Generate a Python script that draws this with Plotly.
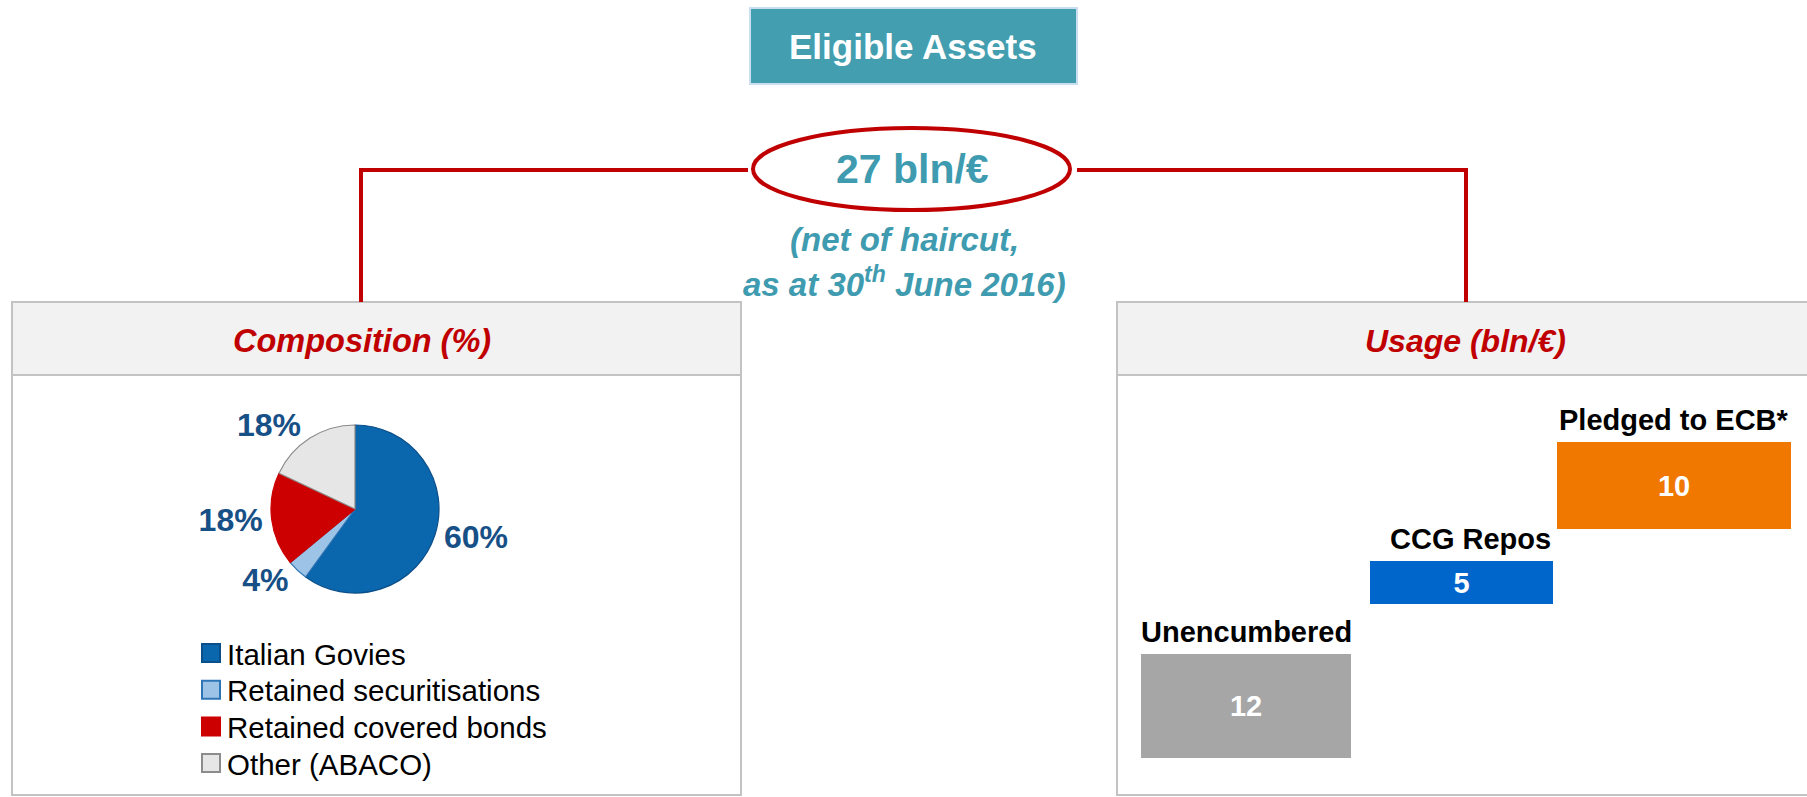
import plotly.graph_objects as go

W, H = 1807, 797
FONT = "Arial, Liberation Sans, sans-serif"

# ---------------- data ----------------
pie_labels = ["Italian Govies", "Retained securitisations", "Retained covered bonds", "Other (ABACO)"]
pie_values = [60, 4, 18, 18]

usage_categories = ["Unencumbered", "CCG Repos", "Pledged to ECB*"]
usage_values = [12, 5, 10]

main_title = "Eligible Assets"
total_text = "27 bln/€"
subtitle_1 = "(net of haircut,"
subtitle_2 = "as at 30<sup>th</sup> June 2016)"
left_title = "Composition (%)"
right_title = "Usage (bln/€)"

# ---------------- styles / positions ----------------
TEAL = "#3F9BAF"
RED = "#C00000"
PIE_TEXT = "#174F87"
pie_colors = ["#0A67AD", "#9DC3E6", "#CC0000", "#E6E6E6"]
pie_line_colors = ["#0B4F8A", "#2E75B6", "#CC0000", "#8C8C8C"]
legend_border = ["#0B4F8A", "#2E75B6", "#CC0000", "#8C8C8C"]
bar_colors = ["#A6A6A6", "#0066CC", "#F07800"]

bar_left_px = [1141, 1370, 1557]
bar_right_px = [1351, 1553, 1791]
bar_gaps = [5.7, 3.6]          # vertical spacing between steps (value units)
label_anchor = ["center", "right", "center"]
PX_PER_UNIT = 8.7
BASE_PY = 758                  # pixel row of value 0

LEG_X, LEG_Y0, LEG_DY, LEG_SQ = 202, 653, 36.7, 18


def xp(px):
    return px / W


def yp(py):
    return 1 - py / H


# bar geometry from data
bases = [0.0]
for i in range(1, len(usage_values)):
    bases.append(bases[-1] + usage_values[i - 1] + bar_gaps[i - 1])
centers = [(l + r) / 2 for l, r in zip(bar_left_px, bar_right_px)]
widths = [r - l for l, r in zip(bar_left_px, bar_right_px)]

fig = go.Figure()

fig.add_trace(go.Bar(
    x=centers, y=usage_values, base=bases, width=widths,
    marker=dict(color=bar_colors, line=dict(width=0)),
    text=[str(v) for v in usage_values], textposition="inside",
    insidetextanchor="middle", constraintext="none", textangle=0,
    textfont=dict(color="white", size=29, family=FONT, weight="bold"),
    showlegend=False, hoverinfo="skip",
))

PIE_CX, PIE_CY, PIE_R = 355, 509, 84
fig.add_trace(go.Pie(
    labels=pie_labels, values=pie_values, sort=False, direction="clockwise",
    rotation=0,
    marker=dict(colors=pie_colors, line=dict(color=pie_line_colors, width=1.2)),
    texttemplate="%{percent:.0%}", textposition="outside",
    textfont=dict(size=32, color=PIE_TEXT, family=FONT, weight="bold"),
    domain=dict(x=[xp(PIE_CX - PIE_R), xp(PIE_CX + PIE_R)],
                y=[yp(PIE_CY + PIE_R), yp(PIE_CY - PIE_R)]),
    hoverinfo="skip", showlegend=False,
))

shapes = []
# panels
PANEL_LINE = dict(color="#C3C3C3", width=2)
for (x0, x1) in [(12, 741), (1117, 1815)]:
    shapes.append(dict(type="rect", xref="paper", yref="paper", layer="below",
                       x0=xp(x0), x1=xp(x1), y0=yp(375), y1=yp(302),
                       fillcolor="#F2F2F2", line=PANEL_LINE))
    shapes.append(dict(type="rect", xref="paper", yref="paper", layer="below",
                       x0=xp(x0), x1=xp(x1), y0=yp(795), y1=yp(375),
                       fillcolor="white", line=PANEL_LINE))
# title box
shapes.append(dict(type="rect", xref="paper", yref="paper", layer="below",
                   x0=xp(750), x1=xp(1077), y0=yp(84), y1=yp(8),
                   fillcolor="#439EB0", line=dict(color="#C9DFEF", width=2)))
# connector lines
shapes.append(dict(type="path", xref="paper", yref="paper", layer="below",
                   path=f"M{xp(361)},{yp(302)} L{xp(361)},{yp(170)} L{xp(748)},{yp(170)}",
                   line=dict(color=RED, width=4)))
shapes.append(dict(type="path", xref="paper", yref="paper", layer="below",
                   path=f"M{xp(1077)},{yp(170)} L{xp(1466)},{yp(170)} L{xp(1466)},{yp(302)}",
                   line=dict(color=RED, width=4)))
# ellipse
shapes.append(dict(type="circle", xref="paper", yref="paper", layer="below",
                   x0=xp(753), x1=xp(1070), y0=yp(210), y1=yp(128),
                   fillcolor="white", line=dict(color=RED, width=4)))

ann = []


def add_text(text, px, py, size, color, bold=True, italic=False, xanchor="center"):
    t = text
    if italic:
        t = f"<i>{t}</i>"
    if bold:
        t = f"<b>{t}</b>"
    ann.append(dict(text=t, x=xp(px), y=yp(py), xref="paper", yref="paper",
                    showarrow=False, xanchor=xanchor, yanchor="middle",
                    font=dict(size=size, color=color, family=FONT)))


add_text(main_title, 913, 46, 35, "white")
add_text(total_text, 912, 169, 41, TEAL)
add_text(subtitle_1, 904, 240, 33, TEAL, italic=True)
add_text(subtitle_2, 904, 282, 33, TEAL, italic=True)
add_text(left_title, 362, 341, 32.5, RED, italic=True)
add_text(right_title, 1465, 341, 32, RED, italic=True)

# legend for the pie (keys + labels)
for i, lab in enumerate(pie_labels):
    cy = LEG_Y0 + i * LEG_DY
    shapes.append(dict(type="rect", xref="paper", yref="paper",
                       x0=xp(LEG_X), x1=xp(LEG_X + LEG_SQ),
                       y0=yp(cy + LEG_SQ / 2), y1=yp(cy - LEG_SQ / 2),
                       fillcolor=pie_colors[i], line=dict(color=legend_border[i], width=2)))
    add_text(lab, LEG_X + LEG_SQ + 5, cy + 1, 29.5, "black", bold=False, xanchor="left")

# category labels above bars
for i, cat in enumerate(usage_categories):
    top = bases[i] + usage_values[i]
    xa = label_anchor[i]
    xpos = bar_right_px[i] if xa == "right" else centers[i]
    ann.append(dict(text=f"<b>{cat}</b>", x=xpos, y=top, xref="x", yref="y",
                    xanchor=xa, yanchor="bottom", yshift=4, showarrow=False,
                    font=dict(size=29, color="black", family=FONT)))

fig.update_layout(
    width=W, height=H, margin=dict(l=0, r=0, t=0, b=0),
    paper_bgcolor="white", plot_bgcolor="rgba(0,0,0,0)",
    xaxis=dict(range=[0, W], visible=False, domain=[0, 1], fixedrange=True),
    yaxis=dict(range=[-(H - BASE_PY) / PX_PER_UNIT, BASE_PY / PX_PER_UNIT],
               visible=False, domain=[0, 1], fixedrange=True),
    shapes=shapes, annotations=ann, showlegend=False,
    bargap=0,
)

fig.write_html("out.html", config={"displayModeBar": False},
               post_script="document.body.style.margin='0';document.body.style.overflow='hidden';")
